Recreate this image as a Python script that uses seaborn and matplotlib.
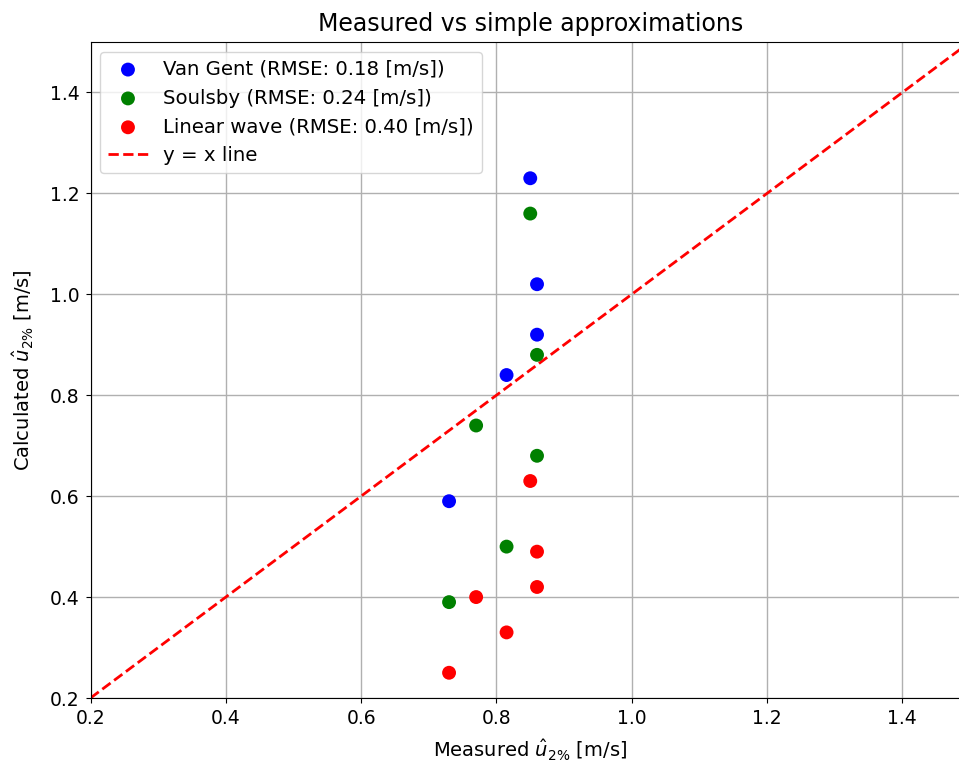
import matplotlib
matplotlib.use("Agg")
import matplotlib.pyplot as plt
import seaborn as sns
import pandas as pd

# Data
vg_meas = [0.85, 0.86, 0.86, 0.815, 0.73]
vg_calc = [1.23, 1.02, 0.92, 0.84, 0.59]

so_meas = [0.85, 0.86, 0.77, 0.86, 0.815, 0.73]
so_calc = [1.16, 0.88, 0.74, 0.68, 0.50, 0.39]

lw_meas = [0.85, 0.86, 0.86, 0.77, 0.815, 0.73]
lw_calc = [0.63, 0.49, 0.42, 0.40, 0.33, 0.25]

labels = ["Van Gent (RMSE: 0.18 [m/s])",
          "Soulsby (RMSE: 0.24 [m/s])",
          "Linear wave (RMSE: 0.40 [m/s])"]
colors = ["blue", "green", "red"]
ref_line = [0.2, 1.5]
ticks = [0.2, 0.4, 0.6, 0.8, 1.0, 1.2, 1.4]

plt.rcParams.update({"font.family": ["DejaVu Sans"], "font.size": 12})

fig = plt.figure(figsize=(9.59, 7.62), dpi=100)
ax = fig.add_axes([90.5 / 959, 64 / 762, 879.5 / 959, 656 / 762])

for xs, ys, lab, col in zip([vg_meas, so_meas, lw_meas],
                            [vg_calc, so_calc, lw_calc], labels, colors):
    df = pd.DataFrame({"x": xs, "y": ys})
    sns.scatterplot(data=df, x="x", y="y", ax=ax, color=col, s=100,
                    edgecolor="none", label=lab, zorder=3)

ax.plot(ref_line, ref_line, "r--", lw=2, label="y = x line", zorder=2)

ax.set_xlim(0.2, 1.5)
ax.set_ylim(0.2, 1.5)
ax.set_xticks(ticks)
ax.set_yticks(ticks)
ax.grid(True, color="#b0b0b0", lw=1)
ax.set_axisbelow(True)
ax.tick_params(labelsize=13.5, pad=4.5)
ax.set_xlabel(r"Measured $\hat{u}_{2\%}$ [m/s]", fontsize=14, labelpad=7)
ax.set_ylabel(r"Calculated $\hat{u}_{2\%}$ [m/s]", fontsize=14, labelpad=10)
ax.set_title("Measured vs simple approximations", fontsize=17, pad=8)
ax.legend(loc="upper left", fontsize=14.2, labelspacing=0.5)

fig.savefig("out.png", dpi=100)
